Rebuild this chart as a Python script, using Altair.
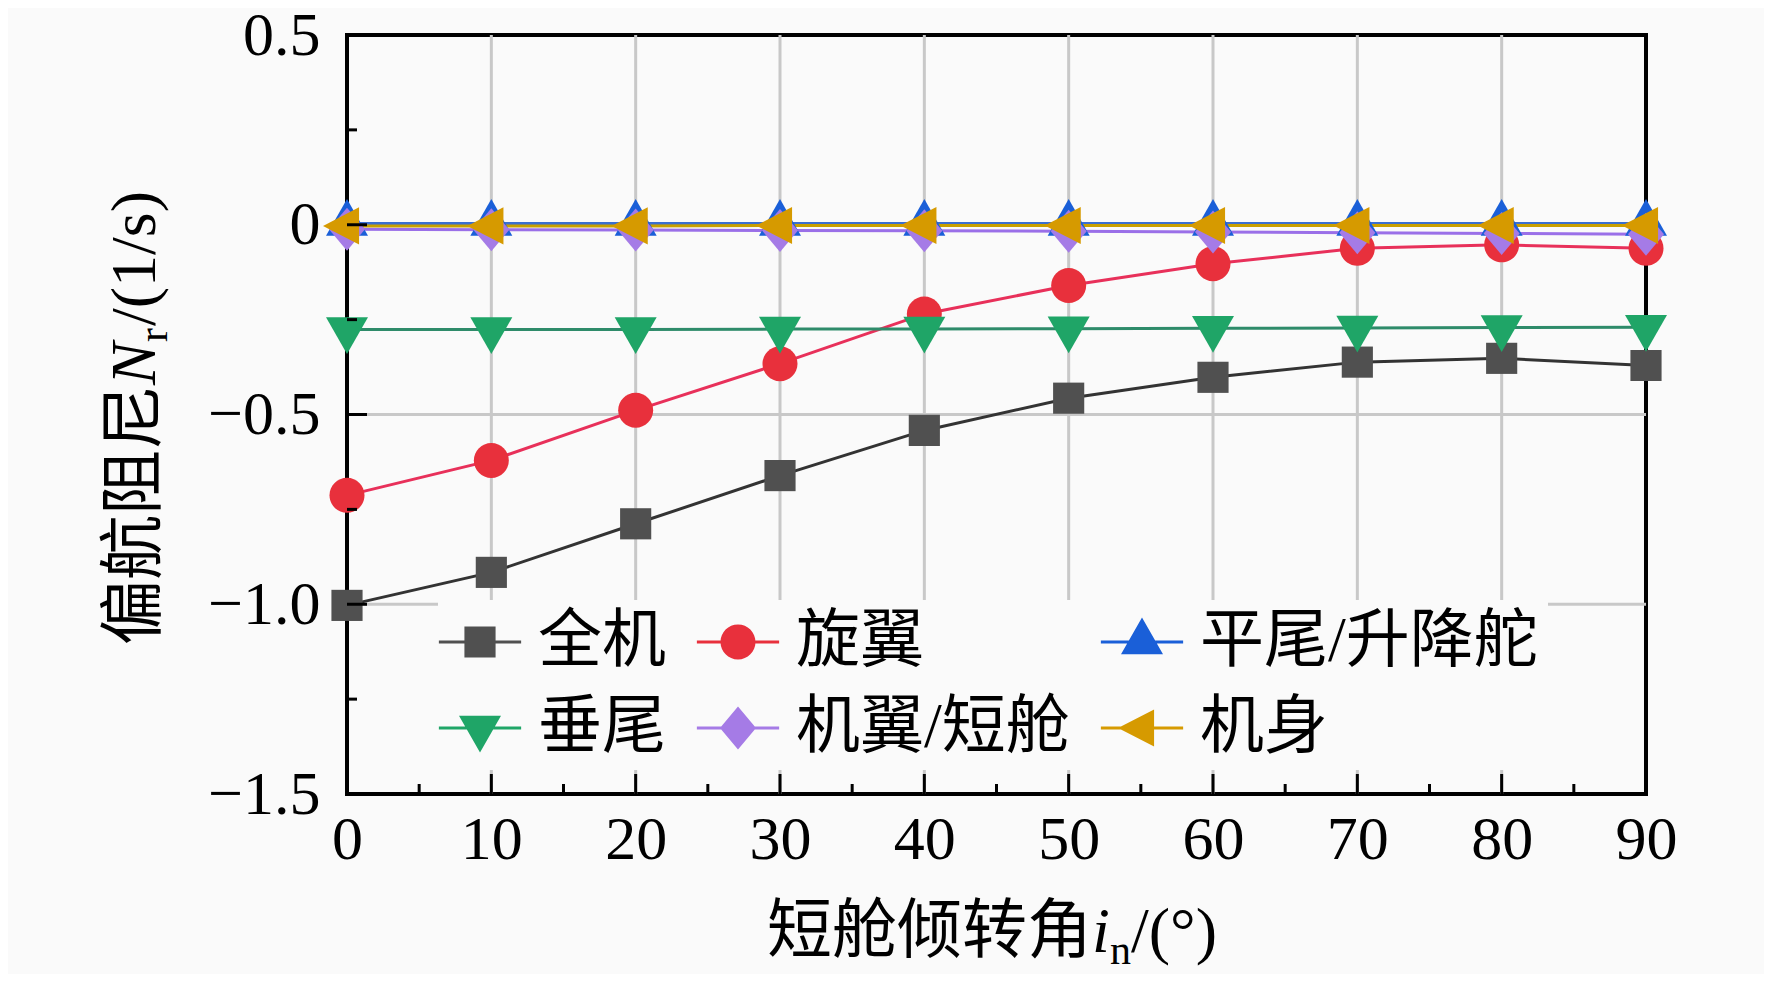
import altair as alt
import pandas as pd

# ---------------- data ----------------
angles = [0, 10, 20, 30, 40, 50, 60, 70, 80, 90]
series_names = ["全机", "旋翼", "平尾/升降舵", "垂尾", "机翼/短舱", "机身"]

quanji = [-1.003, -0.916, -0.788, -0.661, -0.542, -0.457, -0.402, -0.362, -0.352, -0.371]
xuanyi = [-0.713, -0.621, -0.489, -0.366, -0.235, -0.160, -0.103, -0.062, -0.053, -0.062]
pingwei = [0.003, 0.003, 0.003, 0.003, 0.003, 0.003, 0.003, 0.003, 0.003, 0.003]
chuiwei = [-0.276, -0.276, -0.276, -0.275, -0.275, -0.274, -0.273, -0.272, -0.271, -0.270]
jiyi = [-0.012, -0.013, -0.014, -0.015, -0.016, -0.017, -0.019, -0.021, -0.023, -0.025]
jishen = [-0.003, -0.003, -0.003, -0.002, -0.002, -0.002, -0.002, -0.002, -0.002, -0.002]
series_values = [quanji, xuanyi, pingwei, chuiwei, jiyi, jishen]

marker_colors = ["#505050", "#e8303c", "#1a5fd8", "#1fa567", "#a57be6", "#d69a00"]
line_colors = ["#333333", "#e8305a", "#3a6fd0", "#2e8b6a", "#9a6fe8", "#c8a000"]

marker_paths = [
    "M-0.89,-0.89H0.89V0.89H-0.89Z",
    "M-1,0A1,1 0 1,1 1,0A1,1 0 1,1 -1,0Z",
    "M0,-1.4L1.2,0.7L-1.2,0.7Z",
    "M-1.2,-0.7L1.2,-0.7L0,1.4Z",
    "M0,-1.23L1.03,0L0,1.23L-1.03,0Z",
    "M-1.37,0L0.69,-1.06L0.69,1.06Z",
]
legend_line = "M-2.35,-0.09H2.35V0.09H-2.35Z"
legend_paths = [p + legend_line for p in marker_paths]

x_ticks = [0, 10, 20, 30, 40, 50, 60, 70, 80, 90]
x_minor = [5, 15, 25, 35, 45, 55, 65, 75, 85]
y_ticks = [-1.5, -1.0, -0.5, 0.0, 0.5]
y_minor = [-1.25, -0.75, -0.25, 0.25]
x_grid = [10, 20, 30, 40, 50, 60, 70, 80]
y_grid = [-1.0, -0.5, 0.0]

y_title_parts = ["偏航阻尼", "N", "r", "/(1/s)"]
x_title_parts = ["短舱倾转角", "i", "n", "/(°)"]

# ---------------- build ----------------
rows = []
for name, vals in zip(series_names, series_values):
    for a, v in zip(angles, vals):
        rows.append({"angle": a, "value": v, "series": name})
df = pd.DataFrame(rows)

W, H = 1299, 759
SERIF = "Liberation Serif"
MIX = "Liberation Serif, Noto Sans CJK SC"
GRID = "#c8c8c8"

xs = alt.Scale(domain=[0, 90], nice=False, zero=False)
ys = alt.Scale(domain=[-1.5, 0.5], nice=False, zero=False)

xaxis = alt.Axis(values=x_ticks, grid=False,
                 ticks=False, domain=False, labelFont=SERIF, labelFontSize=62,
                 labelColor="black", labelPadding=15, title=None,
                 labelFlush=False, labelOverlap=False)
yaxis = alt.Axis(values=y_ticks, grid=False,
                 ticks=False, domain=False, labelFont=SERIF, labelFontSize=62,
                 labelColor="black", labelPadding=27, title=None,
                 labelFlush=False, labelOverlap=False,
                 labelExpr="datum.value == 0 ? '0' : format(datum.value, '.1f')")

X = alt.X("angle:Q", scale=xs, axis=xaxis)
Y = alt.Y("value:Q", scale=ys, axis=yaxis)

# grid lines (interior only, so the black frame stays visible)
xgrid = alt.Chart(pd.DataFrame({"angle": x_grid})).mark_rule(color=GRID, strokeWidth=3).encode(
    x=X, y=alt.value(0), y2=alt.value(H))
ygrid = alt.Chart(pd.DataFrame({"value": y_grid})).mark_rule(color=GRID, strokeWidth=3).encode(
    y=Y, x=alt.value(0), x2=alt.value(W))

lines = alt.Chart(df).mark_line(strokeWidth=3).encode(
    x=X, y=Y,
    color=alt.Color("series:N", scale=alt.Scale(domain=series_names, range=line_colors), legend=None),
)

points = alt.Chart(df).mark_point(filled=True, opacity=1, size=1225).encode(
    x=X, y=Y,
    color=alt.Color("series:N", scale=alt.Scale(domain=series_names, range=marker_colors), legend=None),
    shape=alt.Shape("series:N", scale=alt.Scale(domain=series_names, range=marker_paths), legend=None),
)

leg = alt.Legend(title=None, orient="none", legendX=91, legendY=565, columns=3,
                 direction="horizontal",
                 labelFont=MIX, labelFontSize=64, labelColor="black", labelLimit=800,
                 symbolSize=1225, symbolStrokeWidth=0, symbolOpacity=1,
                 labelOffset=26, columnPadding=30, rowPadding=22, padding=10,
                 fillColor="#fafafa")

legend_layer = alt.Chart(df).transform_filter("false").mark_point(
    filled=True, opacity=1, size=1225).encode(
    x=X, y=Y,
    color=alt.Color("series:N", scale=alt.Scale(domain=series_names, range=marker_colors), legend=leg),
    shape=alt.Shape("series:N", scale=alt.Scale(domain=series_names, range=legend_paths), legend=leg),
)

# inward ticks
xt_major = alt.Chart(pd.DataFrame({"angle": x_ticks})).mark_rule(color="black", strokeWidth=3).encode(
    x=X, y=alt.value(H), y2=alt.value(H - 20))
xt_minor = alt.Chart(pd.DataFrame({"angle": x_minor})).mark_rule(color="black", strokeWidth=3).encode(
    x=X, y=alt.value(H), y2=alt.value(H - 10))
yt_major = alt.Chart(pd.DataFrame({"value": y_ticks})).mark_rule(color="black", strokeWidth=3).encode(
    y=Y, x=alt.value(0), x2=alt.value(20))
yt_minor = alt.Chart(pd.DataFrame({"value": y_minor})).mark_rule(color="black", strokeWidth=3).encode(
    y=Y, x=alt.value(0), x2=alt.value(10))


def txt(s, x, y, size, font, style="normal", angle=0):
    return alt.Chart(pd.DataFrame({"t": [s]})).mark_text(
        font=font, fontSize=size, fontStyle=style, angle=angle,
        align="left", baseline="alphabetic", color="black").encode(
        text="t:N", x=alt.value(x), y=alt.value(y))


# y title (rotated), pieces stacked bottom-to-top
ytitle = [
    txt(y_title_parts[0], -192, 610, 65, MIX, angle=270),
    txt(y_title_parts[1], -192, 350, 64, SERIF, "italic", 270),
    txt(y_title_parts[2], -180, 307, 42, SERIF, "normal", 270),
    txt(y_title_parts[3], -192, 291, 64, SERIF, "normal", 270),
]
# x title
xtitle = [
    txt(x_title_parts[0], 420, 917, 65, MIX),
    txt(x_title_parts[1], 745, 917, 64, SERIF, "italic"),
    txt(x_title_parts[2], 763, 929, 42, SERIF),
    txt(x_title_parts[3], 784, 917, 64, SERIF),
]

chart = alt.layer(
    xgrid, ygrid, lines, points, xt_major, xt_minor, yt_major, yt_minor, legend_layer,
    *ytitle, *xtitle
).resolve_scale(
    color="independent", shape="independent"
).properties(
    width=W, height=H,
    padding={"left": 339, "top": 27, "right": 118, "bottom": 180},
    autosize=alt.AutoSizeParams(type="none"),
    background="#fafafa",
).configure_view(
    stroke="black", strokeWidth=4
)

chart.save("out.html", embed_options={"renderer": "svg", "actions": False})
